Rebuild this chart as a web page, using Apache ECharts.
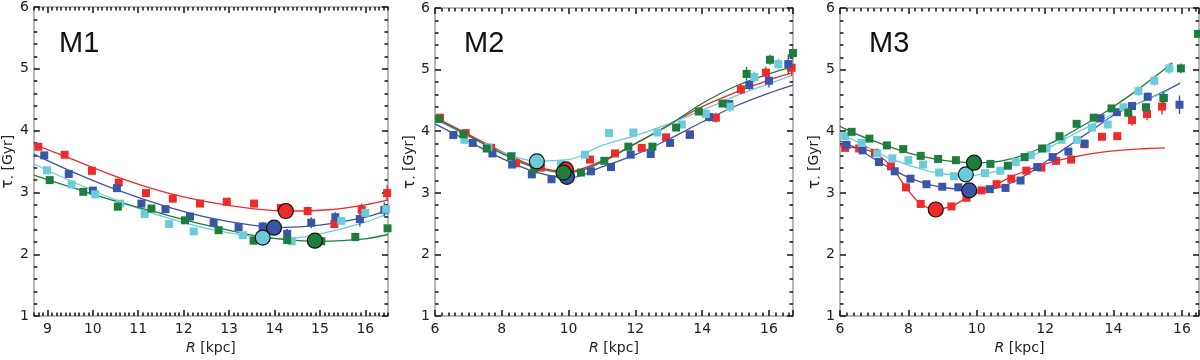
<!DOCTYPE html>
<html><head><meta charset="utf-8">
<script src="https://cdn.jsdelivr.net/npm/echarts@6/dist/echarts.min.js"></script>
<style>html,body{margin:0;padding:0;background:#fff}#c{width:1200px;height:360px}</style>
</head><body><div id="c"></div>
<script>
// ---------- axes / labels ----------
const panelNames = ['M1', 'M2', 'M3'];
const xRanges = [[8.7, 16.5], [6, 16.72], [6, 16.5]];
const xMajorTicks = [[9, 10, 11, 12, 13, 14, 15, 16], [6, 8, 10, 12, 14, 16], [6, 8, 10, 12, 14, 16]];
const xMajorStep = [1, 2, 2];
const xMinorStep = [0.1, 0.2, 0.2];
const yRange = [1, 6];
const yMajorTicks = [1, 2, 3, 4, 5, 6];
const yMinorStep = 0.2;

// ---------- M1 ----------
const m1RedR = [8.80, 9.38, 9.98, 10.57, 11.17, 11.76, 12.36, 12.95, 13.55, 14.14, 14.73, 15.32, 15.92, 16.48];
const m1RedT = [3.74, 3.61, 3.35, 3.16, 2.99, 2.90, 2.82, 2.85, 2.82, 2.75, 2.70, 2.49, 2.72, 2.99];
const m1RedE = [0, 0, 0, 0, 0, 0, 0, 0, 0, 0.06, 0.07, 0.05, 0.10, 0.13];
const m1BlueR = [8.93, 9.47, 10.00, 10.53, 11.07, 11.60, 12.14, 12.66, 13.21, 13.74, 14.28, 14.81, 15.34, 15.88, 16.42];
const m1BlueT = [3.60, 3.30, 3.03, 3.07, 2.82, 2.73, 2.61, 2.51, 2.44, 2.45, 2.33, 2.51, 2.60, 2.57, 2.72];
const m1BlueE = [0, 0, 0, 0, 0, 0, 0, 0, 0.03, 0.07, 0.08, 0.09, 0.08, 0.12, 0.12];
const m1CyanR = [8.99, 9.53, 10.05, 10.60, 11.14, 11.68, 12.22, 13.30, 14.38, 15.47, 16.00, 16.46];
const m1CyanT = [3.36, 3.13, 2.97, 2.82, 2.65, 2.49, 2.37, 2.31, 2.21, 2.54, 2.67, 2.73];
const m1CyanE = [0, 0, 0, 0, 0, 0, 0, 0, 0.04, 0.05, 0.06, 0.06];
const m1GreenR = [9.05, 9.79, 10.55, 11.29, 12.03, 12.77, 13.54, 14.28, 15.03, 15.78, 16.49];
const m1GreenT = [3.20, 3.01, 2.77, 2.74, 2.55, 2.39, 2.22, 2.23, 2.21, 2.28, 2.42];
const m1GreenE = [0, 0, 0, 0, 0, 0, 0, 0, 0, 0.07, 0.05];

const m1RedCurveR = [8.7, 9.5, 10.5, 11.5, 12.5, 13.5, 14.3, 15.2, 16.0, 16.5];
const m1RedCurveT = [3.78, 3.55, 3.26, 3.02, 2.85, 2.74, 2.70, 2.72, 2.80, 2.88];
const m1BlueCurveR = [8.7, 9.5, 10.5, 11.5, 12.5, 13.5, 14.1, 15.0, 16.0, 16.5];
const m1BlueCurveT = [3.62, 3.35, 3.05, 2.80, 2.60, 2.47, 2.43, 2.47, 2.60, 2.72];
const m1CyanCurveR = [8.7, 9.5, 10.5, 11.5, 12.5, 13.5, 14.2, 15.0, 16.0, 16.5];
const m1CyanCurveT = [3.46, 3.19, 2.88, 2.62, 2.42, 2.29, 2.25, 2.33, 2.52, 2.66];
const m1GreenCurveR = [8.7, 9.5, 10.5, 11.5, 12.5, 13.5, 14.2, 15.0, 16.0, 16.5];
const m1GreenCurveT = [3.28, 3.09, 2.86, 2.66, 2.47, 2.31, 2.24, 2.21, 2.25, 2.32];

// minima: red, blue, cyan, green
const m1MinR = [14.25, 13.99, 13.74, 14.89];
const m1MinT = [2.70, 2.43, 2.27, 2.22];

// ---------- M2 ----------
const m2RedR = [6.15, 6.92, 7.68, 8.43, 9.17, 9.89, 10.64, 11.39, 12.19, 12.92, 13.63, 14.41, 15.16, 15.91, 16.68];
const m2RedT = [4.22, 3.97, 3.73, 3.48, 3.41, 3.40, 3.54, 3.64, 3.73, 3.90, 3.95, 4.22, 4.68, 4.95, 5.03];
const m2RedE = [0, 0, 0, 0, 0, 0, 0, 0, 0, 0, 0.03, 0.08, 0.08, 0.10, 0.13];
const m2BlueR = [6.55, 7.13, 7.72, 8.31, 8.90, 9.49, 10.67, 11.27, 11.86, 12.46, 13.04, 13.63, 14.21, 14.81, 15.41, 16.00, 16.58];
const m2BlueT = [3.94, 3.81, 3.64, 3.46, 3.30, 3.22, 3.35, 3.42, 3.62, 3.63, 3.81, 3.94, 4.23, 4.44, 4.75, 4.82, 5.09];
const m2BlueE = [0, 0, 0, 0, 0, 0, 0, 0, 0, 0, 0, 0.04, 0.07, 0.06, 0.08, 0.11, 0.16];
const m2CyanR = [6.88, 7.60, 8.30, 9.77, 10.49, 11.21, 11.94, 12.66, 13.39, 14.11, 14.83, 15.56, 16.28];
const m2CyanT = [3.86, 3.74, 3.60, 3.47, 3.62, 3.97, 3.98, 3.98, 4.11, 4.28, 4.40, 4.88, 5.09];
const m2CyanE = [0, 0, 0, 0, 0, 0, 0, 0, 0, 0.04, 0.09, 0.09, 0.09];
const m2GreenR = [6.12, 6.85, 7.55, 8.28, 8.97, 10.37, 11.07, 11.79, 12.51, 13.22, 13.90, 14.61, 15.33, 16.03, 16.72];
const m2GreenT = [4.20, 3.95, 3.72, 3.59, 3.38, 3.33, 3.52, 3.75, 3.75, 4.06, 4.32, 4.45, 4.93, 5.16, 5.27];
const m2GreenE = [0, 0, 0, 0, 0, 0, 0, 0, 0, 0.04, 0.06, 0.05, 0.11, 0.08, 0.10];

const m2CurveR = [6, 7, 8, 9, 10, 11, 12, 13, 14, 15, 16, 16.72];
const m2RedCurveT = [4.23, 3.95, 3.67, 3.43, 3.35, 3.52, 3.80, 4.10, 4.40, 4.63, 4.83, 4.95];
const m2BlueCurveT = [4.12, 3.84, 3.56, 3.34, 3.24, 3.42, 3.62, 3.87, 4.15, 4.41, 4.62, 4.75];
const m2CyanCurveT = [4.20, 3.92, 3.66, 3.52, 3.54, 3.77, 3.93, 4.12, 4.34, 4.57, 4.77, 4.91];
const m2GreenCurveT = [4.21, 3.93, 3.64, 3.41, 3.33, 3.50, 3.80, 4.10, 4.45, 4.73, 4.93, 5.05];

const m2MinR = [9.92, 9.95, 9.05, 9.85];
const m2MinT = [3.38, 3.26, 3.51, 3.33];

// ---------- M3 ----------
const m3RedR = [6.15, 6.56, 7.02, 7.49, 7.93, 8.36, 9.26, 9.70, 10.14, 10.58, 11.01, 11.45, 11.89, 12.32, 12.76, 13.15, 13.66, 14.11, 14.54, 14.98, 15.42];
const m3RedT = [3.73, 3.72, 3.65, 3.43, 3.09, 2.82, 2.78, 2.92, 3.04, 3.14, 3.23, 3.36, 3.41, 3.52, 3.54, 3.79, 3.91, 3.92, 4.18, 4.28, 4.40];
const m3RedE = [0, 0, 0, 0, 0, 0, 0, 0, 0, 0, 0, 0, 0, 0, 0, 0, 0.03, 0.06, 0.09, 0.10, 0.13];
const m3BlueR = [6.19, 6.66, 7.14, 7.60, 8.06, 8.53, 8.99, 9.46, 10.38, 10.84, 11.28, 11.77, 12.22, 12.68, 13.15, 13.62, 14.10, 14.54, 15.00, 15.46, 15.93];
const m3BlueT = [3.78, 3.69, 3.50, 3.35, 3.23, 3.14, 3.10, 3.09, 3.06, 3.08, 3.20, 3.42, 3.58, 3.67, 3.80, 4.21, 4.31, 4.41, 4.56, 4.54, 4.43];
const m3BlueE = [0, 0, 0, 0, 0, 0, 0, 0, 0, 0, 0, 0, 0, 0, 0, 0.03, 0.04, 0.05, 0.07, 0.10, 0.15];
const m3CyanR = [6.15, 6.63, 7.09, 7.53, 8.00, 8.43, 8.90, 9.33, 10.24, 10.69, 11.14, 11.58, 12.04, 12.48, 12.93, 13.37, 13.83, 14.29, 14.73, 15.19, 15.63];
const m3CyanT = [3.92, 3.81, 3.64, 3.56, 3.53, 3.46, 3.33, 3.27, 3.32, 3.36, 3.50, 3.61, 3.72, 3.86, 3.86, 4.06, 4.11, 4.39, 4.65, 4.82, 5.02];
const m3CyanE = [0, 0, 0, 0, 0, 0, 0, 0, 0, 0, 0, 0, 0, 0, 0, 0, 0, 0.05, 0.08, 0.08, 0.09];
const m3GreenR = [6.34, 6.86, 7.37, 7.85, 8.36, 8.87, 9.39, 10.40, 10.91, 11.40, 11.91, 12.42, 12.92, 13.42, 13.94, 14.43, 14.95, 15.47, 15.97, 16.47];
const m3GreenT = [3.99, 3.88, 3.77, 3.71, 3.60, 3.55, 3.53, 3.47, 3.44, 3.58, 3.72, 3.92, 4.12, 4.22, 4.37, 4.30, 4.39, 4.54, 5.02, 5.58];
const m3GreenE = [0, 0, 0, 0, 0, 0, 0, 0, 0, 0, 0, 0, 0, 0, 0, 0.05, 0.06, 0.08, 0.08, 0.06];

const m3RedCurveR = [6, 6.56, 7.02, 7.49, 7.93, 8.36, 8.8, 9.26, 9.70, 10.14, 10.58, 11.0, 11.5, 12, 13, 14, 15, 15.5];
const m3RedCurveT = [3.76, 3.72, 3.65, 3.43, 3.09, 2.82, 2.74, 2.78, 2.92, 3.04, 3.14, 3.26, 3.37, 3.47, 3.60, 3.68, 3.72, 3.73];
const m3BlueCurveR = [6, 6.5, 7, 7.5, 8, 8.5, 9, 9.75, 10.5, 11, 11.5, 12, 12.5, 13, 13.5, 14, 14.5, 15, 15.5, 15.95];
const m3BlueCurveT = [3.84, 3.72, 3.55, 3.39, 3.25, 3.15, 3.09, 3.05, 3.07, 3.16, 3.31, 3.50, 3.69, 3.88, 4.07, 4.26, 4.40, 4.52, 4.65, 4.78];
const m3CyanCurveR = [6, 6.5, 7, 7.5, 8, 8.5, 9, 9.7, 10.5, 11, 11.5, 12, 12.5, 13, 13.5, 14, 14.5, 15, 15.6];
const m3CyanCurveT = [3.95, 3.83, 3.68, 3.55, 3.45, 3.37, 3.31, 3.28, 3.34, 3.46, 3.57, 3.70, 3.85, 4.00, 4.14, 4.28, 4.40, 4.52, 4.66];
const m3GreenCurveR = [6, 6.5, 7, 7.5, 8, 8.5, 9, 9.9, 10.5, 11, 11.5, 12, 12.5, 13, 13.5, 14, 14.5, 15, 15.5, 15.72];
const m3GreenCurveT = [4.08, 3.95, 3.84, 3.74, 3.65, 3.58, 3.53, 3.49, 3.50, 3.55, 3.64, 3.76, 3.90, 4.06, 4.22, 4.40, 4.59, 4.80, 5.01, 5.11];

const m3MinR = [8.80, 9.78, 9.68, 9.92];
const m3MinT = [2.73, 3.04, 3.30, 3.49];

// ---------- assembly ----------
const COLORS = { red: '#ee2a2b', blue: '#3a55a6', cyan: '#6ccbdb', green: '#1e7d3c' };
const ORDER = ['red', 'blue', 'cyan', 'green'];
const zip = (a, b) => a.map((v, i) => [v, b[i]]);

const panels = [
  { pts: { red: [m1RedR, m1RedT, m1RedE], blue: [m1BlueR, m1BlueT, m1BlueE], cyan: [m1CyanR, m1CyanT, m1CyanE], green: [m1GreenR, m1GreenT, m1GreenE] },
    curves: { red: [m1RedCurveR, m1RedCurveT], blue: [m1BlueCurveR, m1BlueCurveT], cyan: [m1CyanCurveR, m1CyanCurveT], green: [m1GreenCurveR, m1GreenCurveT] },
    min: [m1MinR, m1MinT] },
  { pts: { red: [m2RedR, m2RedT, m2RedE], blue: [m2BlueR, m2BlueT, m2BlueE], cyan: [m2CyanR, m2CyanT, m2CyanE], green: [m2GreenR, m2GreenT, m2GreenE] },
    curves: { red: [m2CurveR, m2RedCurveT], blue: [m2CurveR, m2BlueCurveT], cyan: [m2CurveR, m2CyanCurveT], green: [m2CurveR, m2GreenCurveT] },
    min: [m2MinR, m2MinT] },
  { pts: { red: [m3RedR, m3RedT, m3RedE], blue: [m3BlueR, m3BlueT, m3BlueE], cyan: [m3CyanR, m3CyanT, m3CyanE], green: [m3GreenR, m3GreenT, m3GreenE] },
    curves: { red: [m3RedCurveR, m3RedCurveT], blue: [m3BlueCurveR, m3BlueCurveT], cyan: [m3CyanCurveR, m3CyanCurveT], green: [m3GreenCurveR, m3GreenCurveT] },
    min: [m3MinR, m3MinT] }
];

const grids = [
  { left: 30, right: 812, top: 4, bottom: 37 },
  { left: 435, right: 407, top: 8, bottom: 36 },
  { left: 840, right: 1, top: 8, bottom: 34 }
];

function minorTicks(mn, mx, step, majors) {
  const out = [];
  const start = Math.ceil(mn / step - 1e-9);
  for (let k = start; k * step <= mx + 1e-9; k++) {
    const v = Math.round(k * step * 1000) / 1000;
    if (!majors.some(m => Math.abs(m - v) < 1e-6)) out.push(v);
  }
  return out;
}

const FRAME = '#a5a5a5';
const TICK = '#111';
const FONT = 'DejaVu Sans';
const LABEL = { fontFamily: FONT, fontSize: 14, color: '#222' };
const MAJOR_TICK = { length: 6, lineStyle: { color: TICK, width: 1.5 } };
const MINOR_TICK = { length: 3.5, lineStyle: { color: TICK, width: 1.5 } };

function xAxisSet(p) {
  const [mn, mx] = xRanges[p];
  const majors = xMajorTicks[p];
  const step = xMajorStep[p];
  const regular = Math.abs(mn / step - Math.round(mn / step)) < 1e-9;
  const base = { type: 'value', gridIndex: p, min: mn, max: mx, splitLine: { show: false } };
  const line = { show: true, onZero: false, lineStyle: { color: FRAME, width: 1.6 } };
  const mk = (pos, labels) => {
    const a = Object.assign({}, base, { position: pos, axisLine: line });
    if (regular) {
      a.interval = step;
      a.axisTick = Object.assign({ show: true, inside: true }, MAJOR_TICK);
      a.minorTick = Object.assign({ show: true, splitNumber: Math.round(step / xMinorStep[p]) }, MINOR_TICK);
      a.axisLabel = labels ? Object.assign({ show: true, margin: 6, showMaxLabel: false }, LABEL) : { show: false };
    } else {
      a.axisTick = Object.assign({ show: true, inside: true, customValues: majors }, MAJOR_TICK);
      a.axisLabel = labels ? Object.assign({ show: true, margin: 6, customValues: majors }, LABEL) : { show: false };
    }
    return a;
  };
  const out = [mk('bottom', true), mk('top', false)];
  out[0].name = '{i|R} [kpc]';
  out[0].nameLocation = 'middle';
  out[0].nameGap = 19;
  out[0].nameTextStyle = Object.assign({ rich: { i: Object.assign({ fontStyle: 'italic' }, LABEL) } }, LABEL);
  if (!regular) {
    const minors = minorTicks(mn, mx, xMinorStep[p], majors);
    ['bottom', 'top'].forEach(pos => out.push(Object.assign({}, base, {
      position: pos, axisLine: { show: false, onZero: false },
      axisTick: Object.assign({ show: true, inside: true, customValues: minors }, MINOR_TICK),
      axisLabel: { show: false }
    })));
  }
  return out;
}

function yAxisSet(p) {
  const base = { type: 'value', gridIndex: p, min: yRange[0], max: yRange[1], interval: 1, splitLine: { show: false } };
  const mk = (pos, labels) => Object.assign({}, base, {
    position: pos,
    axisLine: { show: true, onZero: false, lineStyle: { color: FRAME, width: 1.6 } },
    axisTick: Object.assign({ show: true, inside: true }, MAJOR_TICK),
    minorTick: Object.assign({ show: true, splitNumber: Math.round(1 / yMinorStep) }, MINOR_TICK),
    axisLabel: labels ? Object.assign({ show: true, margin: 5 }, LABEL) : { show: false }
  });
  const a = mk('left', true);
  a.name = '{t|τ}{s|⋆}{n| [Gyr]}';
  a.nameLocation = 'middle';
  a.nameGap = 16;
  a.nameTextStyle = Object.assign({ rich: {
    t: Object.assign({}, LABEL, { fontSize: 15 }),
    s: Object.assign({}, LABEL, { fontSize: 7, verticalAlign: 'bottom', padding: [6, 0, 0, 0] }),
    n: Object.assign({}, LABEL) } }, LABEL);
  return [a, mk('right', false)];
}

function errRender(color) {
  return function (params, api) {
    const x = api.value(0), y = api.value(1), e = api.value(2);
    const p1 = api.coord([x, y - e]);
    const p2 = api.coord([x, y + e]);
    return { type: 'line', shape: { x1: p1[0], y1: p1[1], x2: p2[0], y2: p2[1] },
      style: { stroke: color, lineWidth: 1.4 } };
  };
}

const xAxis = [], yAxis = [], series = [], title = [];
panels.forEach((pn, p) => {
  const xi = xAxis.length, yi = yAxis.length;
  xAxis.push(...xAxisSet(p));
  yAxis.push(...yAxisSet(p));
  ORDER.forEach(c => {
    const [cr, ct] = pn.curves[c];
    series.push({ type: 'line', xAxisIndex: xi, yAxisIndex: yi, data: zip(cr, ct), smooth: 0.35,
      showSymbol: false, symbol: 'none', silent: true, z: 2,
      lineStyle: { color: COLORS[c], width: 1.3 } });
  });
  ORDER.forEach(c => {
    const [pr, pt, pe] = pn.pts[c];
    const errData = pr.map((r, i) => [r, pt[i], pe[i]]).filter(d => d[2] > 0);
    series.push({ type: 'custom', xAxisIndex: xi, yAxisIndex: yi, data: errData, renderItem: errRender(COLORS[c]),
      silent: true, z: 3, clip: true });
    series.push({ type: 'scatter', xAxisIndex: xi, yAxisIndex: yi, data: zip(pr, pt), symbol: 'rect', symbolSize: 8,
      silent: true, z: 3, itemStyle: { color: COLORS[c], opacity: 1 } });
  });
  const [mr, mt] = pn.min;
  ORDER.forEach((c, i) => {
    series.push({ type: 'scatter', xAxisIndex: xi, yAxisIndex: yi, data: [[mr[i], mt[i]]], symbol: 'circle', symbolSize: 15,
      silent: true, z: 4 + i, itemStyle: { color: COLORS[c], borderColor: '#111', borderWidth: 1.2, opacity: 1 } });
  });
  title.push({ text: panelNames[p], left: grids[p].left + 24, top: 24,
    textStyle: { fontFamily: 'Liberation Sans', fontSize: 29, fontWeight: 'normal', color: '#111' } });
});

const chart = echarts.init(document.getElementById('c'), null, { renderer: 'canvas' });
chart.setOption({
  animation: false,
  backgroundColor: '#fff',
  title, grid: grids, xAxis, yAxis, series
});
</script></body></html>
